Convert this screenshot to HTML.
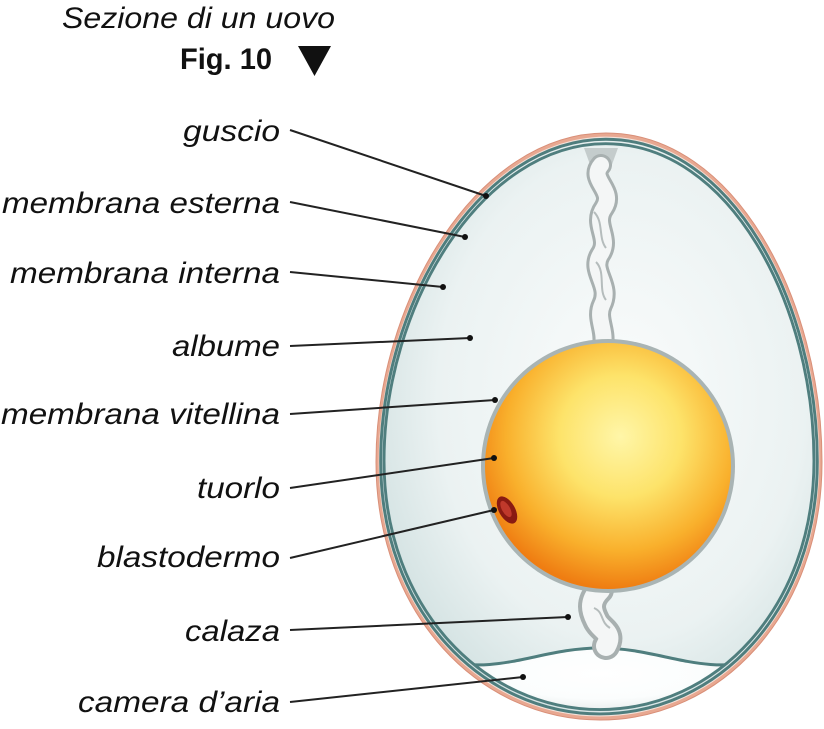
<!DOCTYPE html>
<html><head><meta charset="utf-8"><style>
html,body{margin:0;padding:0;background:#fff;width:824px;height:729px;overflow:hidden}
svg{display:block}
text{font-family:"Liberation Sans",sans-serif;fill:#111}
.lbl{font-style:italic;font-size:30px}
</style></head><body>
<svg width="824" height="729" viewBox="0 0 824 729">
<defs>
<radialGradient id="alb" cx="0.55" cy="0.45" r="0.6">
<stop offset="0" stop-color="#fafcfc"/><stop offset="0.7" stop-color="#ebf2f2"/><stop offset="1" stop-color="#d3e2e2"/>
</radialGradient>
<radialGradient id="yolk" cx="0.55" cy="0.38" r="0.62">
<stop offset="0" stop-color="#fff6a8"/><stop offset="0.4" stop-color="#fde36a"/><stop offset="0.75" stop-color="#f9b02c"/><stop offset="1" stop-color="#ef7d12"/>
</radialGradient>
<radialGradient id="air" cx="0.5" cy="0.4" r="0.5">
<stop offset="0" stop-color="#ffffff"/><stop offset="0.45" stop-color="#fbfdfd"/><stop offset="1" stop-color="#cfd6d6"/>
</radialGradient>
<path id="egg" d="M606,133 C735,133 822,300 822,462 C822,615 720,720 600,720 C480,720 376,615 376,462 C376,300 478,133 606,133 Z"/>
<clipPath id="inner"><use href="#egg" transform="translate(599,430) scale(0.962) translate(-599,-430)"/></clipPath>
</defs>

<text x="62" y="28" class="lbl" textLength="273" lengthAdjust="spacingAndGlyphs">Sezione di un uovo</text>
<text x="180" y="69" font-size="30" font-weight="bold" textLength="92" lengthAdjust="spacingAndGlyphs">Fig. 10</text>
<polygon points="298,46 331,46 314.5,76" fill="#111"/>

<g>
<use href="#egg" fill="#e8a891" stroke="#d98f78" stroke-width="1"/>
<use href="#egg" fill="#f3e2da" transform="translate(599,430) scale(0.988) translate(-599,-430)"/>
<use href="#egg" fill="url(#alb)" transform="translate(599,430) scale(0.978) translate(-599,-430)"/>
<g clip-path="url(#inner)">
<path d="M370,630 C400,640 410,650 440,660 C500,676 540,648 600,648 C660,648 700,676 760,660 C790,650 800,640 830,630 L830,740 L370,740 Z" fill="url(#air)"/>
<path d="M370,630 C400,640 410,650 440,660 C500,676 540,648 600,648 C660,648 700,676 760,660 C790,650 800,640 830,630" fill="none" stroke="#4f7e7e" stroke-width="3"/>
</g>
<use href="#egg" fill="none" stroke="#4f7e7e" stroke-width="3" transform="translate(599,430) scale(0.979) translate(-599,-430)"/>
<use href="#egg" fill="none" stroke="#4f7e7e" stroke-width="3" transform="translate(599,430) scale(0.964) translate(-599,-430)"/>
<g>
<path d="M584,148 L618,148 L610,170 L592,170 Z" fill="#c4cccc"/>
<path d="M601,165 C588,180 616,190 604,208 C592,225 612,238 600,255 C590,272 612,285 602,305 C596,318 606,330 603,345" fill="none" stroke="#a8b0b0" stroke-width="22" stroke-linecap="round"/>
<path d="M601,165 C588,180 616,190 604,208 C592,225 612,238 600,255 C590,272 612,285 602,305 C596,318 606,330 603,345" fill="none" stroke="#f4f6f6" stroke-width="16" stroke-linecap="round"/>
<path d="M594,212 C604,222 598,238 606,248 M596,262 C606,272 598,290 606,300" fill="none" stroke="#b5bcbc" stroke-width="2"/>
</g>
<g>
<path d="M600,590 C588,602 592,612 596,620 C600,630 614,632 606,646" fill="none" stroke="#a8b0b0" stroke-width="28" stroke-linecap="round"/>
<path d="M600,590 C588,602 592,612 596,620 C600,630 614,632 606,646" fill="none" stroke="#f4f6f6" stroke-width="20" stroke-linecap="round"/>
<path d="M594,608 C604,612 600,622 610,628" fill="none" stroke="#b5bcbc" stroke-width="2"/>
</g>
<circle cx="608" cy="466" r="127" fill="#a9b4b4"/>
<circle cx="608" cy="466" r="123" fill="url(#yolk)"/>
<ellipse cx="507" cy="510" rx="8" ry="15" transform="rotate(-30 507 510)" fill="#8a1a12"/>
<ellipse cx="506" cy="509" rx="4" ry="9" transform="rotate(-30 506 509)" fill="#c0392b"/>
</g>

<g stroke="#222" stroke-width="2" fill="none">
<line x1="290" y1="130" x2="486" y2="196"/>
<line x1="290" y1="202" x2="465" y2="237"/>
<line x1="290" y1="272" x2="443" y2="287"/>
<line x1="290" y1="346" x2="470" y2="338"/>
<line x1="290" y1="414" x2="495" y2="400"/>
<line x1="290" y1="488" x2="494" y2="458"/>
<line x1="290" y1="558" x2="494" y2="510"/>
<line x1="290" y1="630" x2="568" y2="617"/>
<line x1="290" y1="702" x2="523" y2="677"/>
</g>
<g fill="#111">
<circle cx="486" cy="196" r="3"/><circle cx="465" cy="237" r="3"/><circle cx="443" cy="287" r="3"/>
<circle cx="470" cy="338" r="3"/><circle cx="495" cy="400" r="3"/><circle cx="494" cy="458" r="3"/>
<circle cx="494" cy="510" r="3"/><circle cx="568" cy="617" r="3"/><circle cx="523" cy="677" r="3"/>
</g>

<text x="280" y="141" class="lbl" text-anchor="end" textLength="97" lengthAdjust="spacingAndGlyphs">guscio</text>
<text x="280" y="213" class="lbl" text-anchor="end" textLength="278" lengthAdjust="spacingAndGlyphs">membrana esterna</text>
<text x="280" y="283" class="lbl" text-anchor="end" textLength="270" lengthAdjust="spacingAndGlyphs">membrana interna</text>
<text x="280" y="356" class="lbl" text-anchor="end" textLength="108" lengthAdjust="spacingAndGlyphs">albume</text>
<text x="280" y="424" class="lbl" text-anchor="end" textLength="279" lengthAdjust="spacingAndGlyphs">membrana vitellina</text>
<text x="280" y="498" class="lbl" text-anchor="end" textLength="83" lengthAdjust="spacingAndGlyphs">tuorlo</text>
<text x="280" y="567" class="lbl" text-anchor="end" textLength="183" lengthAdjust="spacingAndGlyphs">blastodermo</text>
<text x="280" y="641" class="lbl" text-anchor="end" textLength="95" lengthAdjust="spacingAndGlyphs">calaza</text>
<text x="280" y="712" class="lbl" text-anchor="end" textLength="202" lengthAdjust="spacingAndGlyphs">camera d’aria</text>
</svg>
</body></html>
